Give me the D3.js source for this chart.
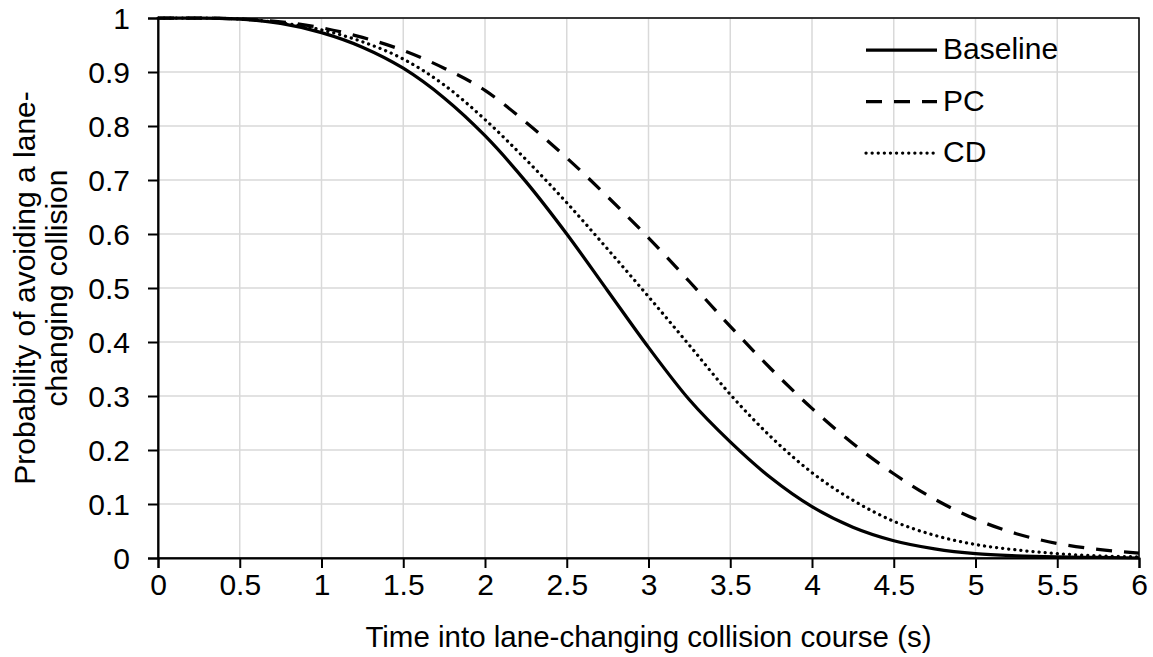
<!DOCTYPE html>
<html>
<head>
<meta charset="utf-8">
<script src="https://cdn.jsdelivr.net/npm/d3@7"></script>
<style>
  body { margin: 0; background: #fff; }
  text { font-family: "Liberation Sans", Arial, sans-serif; fill: #000; }
</style>
</head>
<body>
<div id="chart"></div>
<script>
var times = [0, 0.25, 0.5, 0.75, 1, 1.25, 1.5, 1.75, 2, 2.25, 2.5, 2.75, 3, 3.25, 3.5, 3.75, 4, 4.25, 4.5, 4.75, 5, 5.25, 5.5, 5.75, 6];

var baseline = [1, 1, 0.998, 0.99, 0.973, 0.946, 0.907, 0.852, 0.782, 0.697, 0.6, 0.495, 0.39, 0.293, 0.215, 0.148, 0.095, 0.057, 0.032, 0.017, 0.008, 0.004, 0.002, 0.001, 0];
var pc = [1, 1, 0.998, 0.993, 0.982, 0.964, 0.94, 0.907, 0.866, 0.807, 0.741, 0.669, 0.593, 0.512, 0.429, 0.35, 0.277, 0.212, 0.156, 0.109, 0.072, 0.045, 0.027, 0.016, 0.009];
var cd = [1, 1, 0.998, 0.991, 0.978, 0.956, 0.924, 0.876, 0.812, 0.738, 0.658, 0.572, 0.484, 0.394, 0.303, 0.224, 0.158, 0.107, 0.068, 0.042, 0.025, 0.015, 0.008, 0.004, 0.002];

var seriesNames = ['Baseline', 'PC', 'CD'];
var xTicks = [0, 0.5, 1, 1.5, 2, 2.5, 3, 3.5, 4, 4.5, 5, 5.5, 6];
var yTicks = [0, 0.1, 0.2, 0.3, 0.4, 0.5, 0.6, 0.7, 0.8, 0.9, 1];

var width = 1153,
    height = 657,
    plotLeft = 158,
    plotRight = 1139,
    plotTop = 18,
    plotBottom = 558;

var dashes = {Baseline: null, PC: '16,12', CD: '0.1,6'};
var caps = {Baseline: 'butt', PC: 'butt', CD: 'round'};
var allSeries = [baseline, pc, cd];

var svg = d3.select('#chart').append('svg')
    .attr('width', width)
    .attr('height', height);

var x = d3.scaleLinear().domain([0, 6]).range([plotLeft, plotRight]);
var y = d3.scaleLinear().domain([0, 1]).range([plotBottom, plotTop]);

// grid
svg.append('g').selectAll('line').data(xTicks.slice(1))
  .enter().append('line')
    .attr('x1', function(d) { return x(d); })
    .attr('x2', function(d) { return x(d); })
    .attr('y1', plotTop).attr('y2', plotBottom)
    .style('stroke', '#d9d9d9').style('stroke-width', 1.5);
svg.append('g').selectAll('line').data(yTicks.slice(1))
  .enter().append('line')
    .attr('y1', function(d) { return y(d); })
    .attr('y2', function(d) { return y(d); })
    .attr('x1', plotLeft).attr('x2', plotRight)
    .style('stroke', '#d9d9d9').style('stroke-width', 1.5);

// box
svg.append('rect')
    .attr('x', plotLeft).attr('y', plotTop)
    .attr('width', plotRight - plotLeft).attr('height', plotBottom - plotTop)
    .style('fill', 'none').style('stroke', '#000').style('stroke-width', 1.5);

// axes
var xAxis = svg.append('g')
    .attr('transform', 'translate(0,' + plotBottom + ')')
    .call(d3.axisBottom(x).tickValues(xTicks).tickFormat(d3.format('')).tickSize(10).tickPadding(27));
var yAxis = svg.append('g')
    .attr('transform', 'translate(' + plotLeft + ',0)')
    .call(d3.axisLeft(y).tickValues(yTicks).tickFormat(d3.format('')).tickSize(10).tickPadding(18));

[xAxis, yAxis].forEach(function(a) {
  a.select('.domain').style('stroke', '#000').style('stroke-width', 2);
  a.selectAll('.tick line').style('stroke', '#000').style('stroke-width', 2);
  a.selectAll('text').style('font-size', '30px').style('font-family', '"Liberation Sans", Arial, sans-serif');
});
xAxis.selectAll('.tick text').attr('dy', '0');
yAxis.selectAll('.tick text').attr('dy', '0.35em');

// lines
var line = d3.line()
    .x(function(d, i) { return x(times[i]); })
    .y(function(d) { return y(d); })
    .curve(d3.curveMonotoneX);

svg.append('g').selectAll('path').data(allSeries)
  .enter().append('path')
    .attr('d', line)
    .style('fill', 'none')
    .style('stroke', '#000')
    .style('stroke-width', 3.25)
    .style('stroke-linecap', function(d, i) { return caps[seriesNames[i]]; })
    .style('stroke-dasharray', function(d, i) { return dashes[seriesNames[i]]; });

// legend
var legend = svg.append('g').selectAll('g').data(seriesNames)
  .enter().append('g')
    .attr('transform', function(d, i) { return 'translate(866,' + (50 + i * 51.5) + ')'; });
legend.append('line')
    .attr('x1', 0).attr('x2', 71)
    .style('stroke', '#000').style('stroke-width', 3.25)
    .style('stroke-linecap', function(d) { return caps[d]; })
    .style('stroke-dasharray', function(d) { return dashes[d]; });
legend.append('text')
    .attr('x', 77).attr('y', 9)
    .style('font-size', '30px')
    .text(function(d) { return d; });

// axis titles
svg.append('text')
    .attr('x', (plotLeft + plotRight) / 2).attr('y', 647)
    .attr('text-anchor', 'middle')
    .style('font-size', '29.5px')
    .text('Time into lane-changing collision course (s)');

var yTitle = svg.append('text')
    .attr('transform', 'translate(0,' + ((plotTop + plotBottom) / 2) + ') rotate(-90)')
    .attr('text-anchor', 'middle')
    .style('font-size', '30px');
yTitle.append('tspan').attr('x', 0).attr('y', 35).text('Probability of avoiding a lane-');
yTitle.append('tspan').attr('x', 0).attr('y', 67).text('changing collision');
</script>
</body>
</html>
